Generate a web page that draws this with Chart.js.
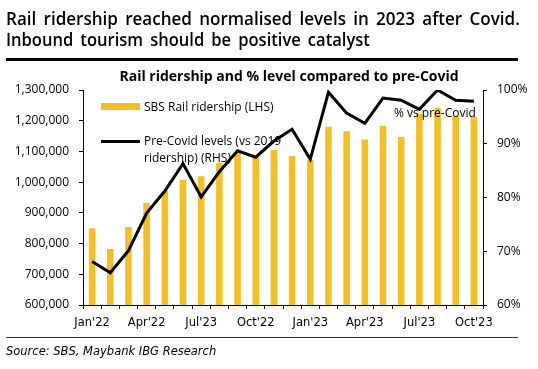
<!DOCTYPE html>
<html>
<head>
<meta charset="utf-8">
<script src="https://cdn.jsdelivr.net/npm/chart.js@4.4.0/dist/chart.umd.min.js"></script>
<style>
  html, body { margin: 0; padding: 0; background: #fff; }
  .page { position: relative; width: 538px; height: 369px; overflow: hidden; font-family: "Open Sans", sans-serif; }
  #chart { position: absolute; left: 0; top: 0; }
  .txt { position: absolute; white-space: nowrap; color: #000; pointer-events: none; }
  .head { left: 6px; font-family: "Open Sans", sans-serif; font-weight: 600; font-size: 18px; line-height: 20px; transform-origin: left top; word-spacing: 3px; }
  .rule { position: absolute; left: 6px; width: 512px; background: #000; }
  .legend-box { position: absolute; left: 101px; width: 39px; }
</style>
</head>
<body>
<div class="page">
  <canvas id="chart" width="538" height="369"></canvas>

  <div class="txt head" id="h1" style="top:8px;">Rail ridership reached normalised levels in 2023 after Covid.</div>
  <div class="txt head" id="h2" style="top:29px;">Inbound tourism should be positive catalyst</div>
  <div class="rule" style="top:58px; height:3px;"></div>

  <div class="txt" style="left:289px; top:66px; transform:translateX(-50%); font-weight:bold; font-size:14px;">Rail ridership and % level compared to pre-Covid</div>

  <div class="legend-box" style="top:103px; height:7px; background:#F4BF22;"></div>
  <div class="txt" style="left:144px; top:98px; font-size:12px;">SBS Rail ridership (LHS)</div>
  <div class="legend-box" style="top:140px; height:3px; background:#000;"></div>
  <div class="txt" style="left:144px; top:132px; font-size:12px; line-height:17px;">Pre-Covid levels (vs 2019<br>ridership) (RHS)</div>
  <div class="txt" style="left:394px; top:104px; font-size:12px;">% vs pre-Covid</div>

  <div class="rule" style="top:337px; height:1px; background:#333;"></div>
  <div class="txt" style="left:6px; top:344px; font-family:'DejaVu Sans', sans-serif; font-style:italic; font-size:11.5px;">Source: SBS, Maybank IBG Research</div>
</div>

<script>
const months = ["Jan'22", "Feb'22", "Mar'22", "Apr'22", "May'22", "Jun'22", "Jul'22", "Aug'22", "Sep'22", "Oct'22", "Nov'22", "Dec'22",
                "Jan'23", "Feb'23", "Mar'23", "Apr'23", "May'23", "Jun'23", "Jul'23", "Aug'23", "Sep'23", "Oct'23"];
// labels as printed under the axis (every third month)
const tickLabels = ["Jan'22", "Apr'22", "Jul'23", "Oct'22", "Jan'23", "Apr'23", "Jul'23", "Oct'23"];
const ridership = [850000, 782000, 854000, 932000, 971000, 1008000, 1019000, 1063000, 1098000, 1081000, 1105000, 1085000,
                   1073000, 1180000, 1166000, 1139000, 1184000, 1147000, 1223000, 1242000, 1215000, 1212000];
const pctPreCovid = [68.1, 66.0, 70.1, 77.1, 81.2, 86.3, 80.1, 84.8, 88.7, 87.5, 90.5, 92.7,
                     87.1, 99.6, 95.7, 93.8, 98.5, 98.1, 96.4, 100.0, 98.1, 97.9];

// squeeze the headline to the width of the rule
['h1', 'h2'].forEach(function (id, i) {
  const el = document.getElementById(id);
  const target = i === 0 ? 514 : 364;
  el.style.transform = 'scaleX(' + (target / el.offsetWidth) + ')';
});

const tickFont = { family: 'Open Sans', size: 12 };

const ctx = document.getElementById('chart').getContext('2d');
new Chart(ctx, {
  data: {
    labels: months,
    datasets: [
      {
        type: 'line',
        label: 'Pre-Covid levels (vs 2019 ridership) (RHS)',
        data: pctPreCovid,
        yAxisID: 'y2',
        borderColor: '#000',
        borderWidth: 3,
        pointRadius: 0,
        tension: 0,
        order: 0,
      },
      {
        type: 'bar',
        label: 'SBS Rail ridership (LHS)',
        data: ridership,
        yAxisID: 'y',
        backgroundColor: '#F4BF22',
        barPercentage: 0.36,
        categoryPercentage: 1,
        order: 1,
      },
    ],
  },
  options: {
    responsive: false,
    animation: false,
    layout: { padding: { top: 90, left: 0, right: 0, bottom: 0 } },
    plugins: {
      legend: { display: false },
      title: { display: false },
      tooltip: { enabled: false },
    },
    scales: {
      x: {
        grid: { drawOnChartArea: false, color: '#000', tickLength: 4, offset: true },
        border: { color: '#000', width: 1 },
        ticks: {
          autoSkip: false,
          maxRotation: 0,
          padding: 7,
          color: '#000',
          font: { family: 'DejaVu Sans', size: 11.5 },
          callback: function (v, i) { return i % 3 === 0 ? tickLabels[i / 3] : ''; },
        },
        afterFit: function (s) { s.height = 64; },
      },
      y: {
        position: 'left',
        min: 600000,
        max: 1300000,
        grid: { drawOnChartArea: false, color: '#000', tickLength: 4 },
        border: { color: '#000', width: 1 },
        ticks: {
          stepSize: 100000,
          padding: 10,
          color: '#000',
          font: tickFont,
          callback: function (v) { return v.toLocaleString('en-US'); },
        },
        afterFit: function (s) { s.width = 83; },
      },
      y2: {
        position: 'right',
        min: 60,
        max: 100,
        grid: { drawOnChartArea: false, color: '#000', tickLength: 4 },
        border: { color: '#000', width: 1 },
        ticks: {
          stepSize: 10,
          padding: 10,
          color: '#000',
          font: tickFont,
          callback: function (v) { return v + '%'; },
        },
        afterFit: function (s) { s.width = 55; },
      },
    },
  },
});
</script>
</body>
</html>
